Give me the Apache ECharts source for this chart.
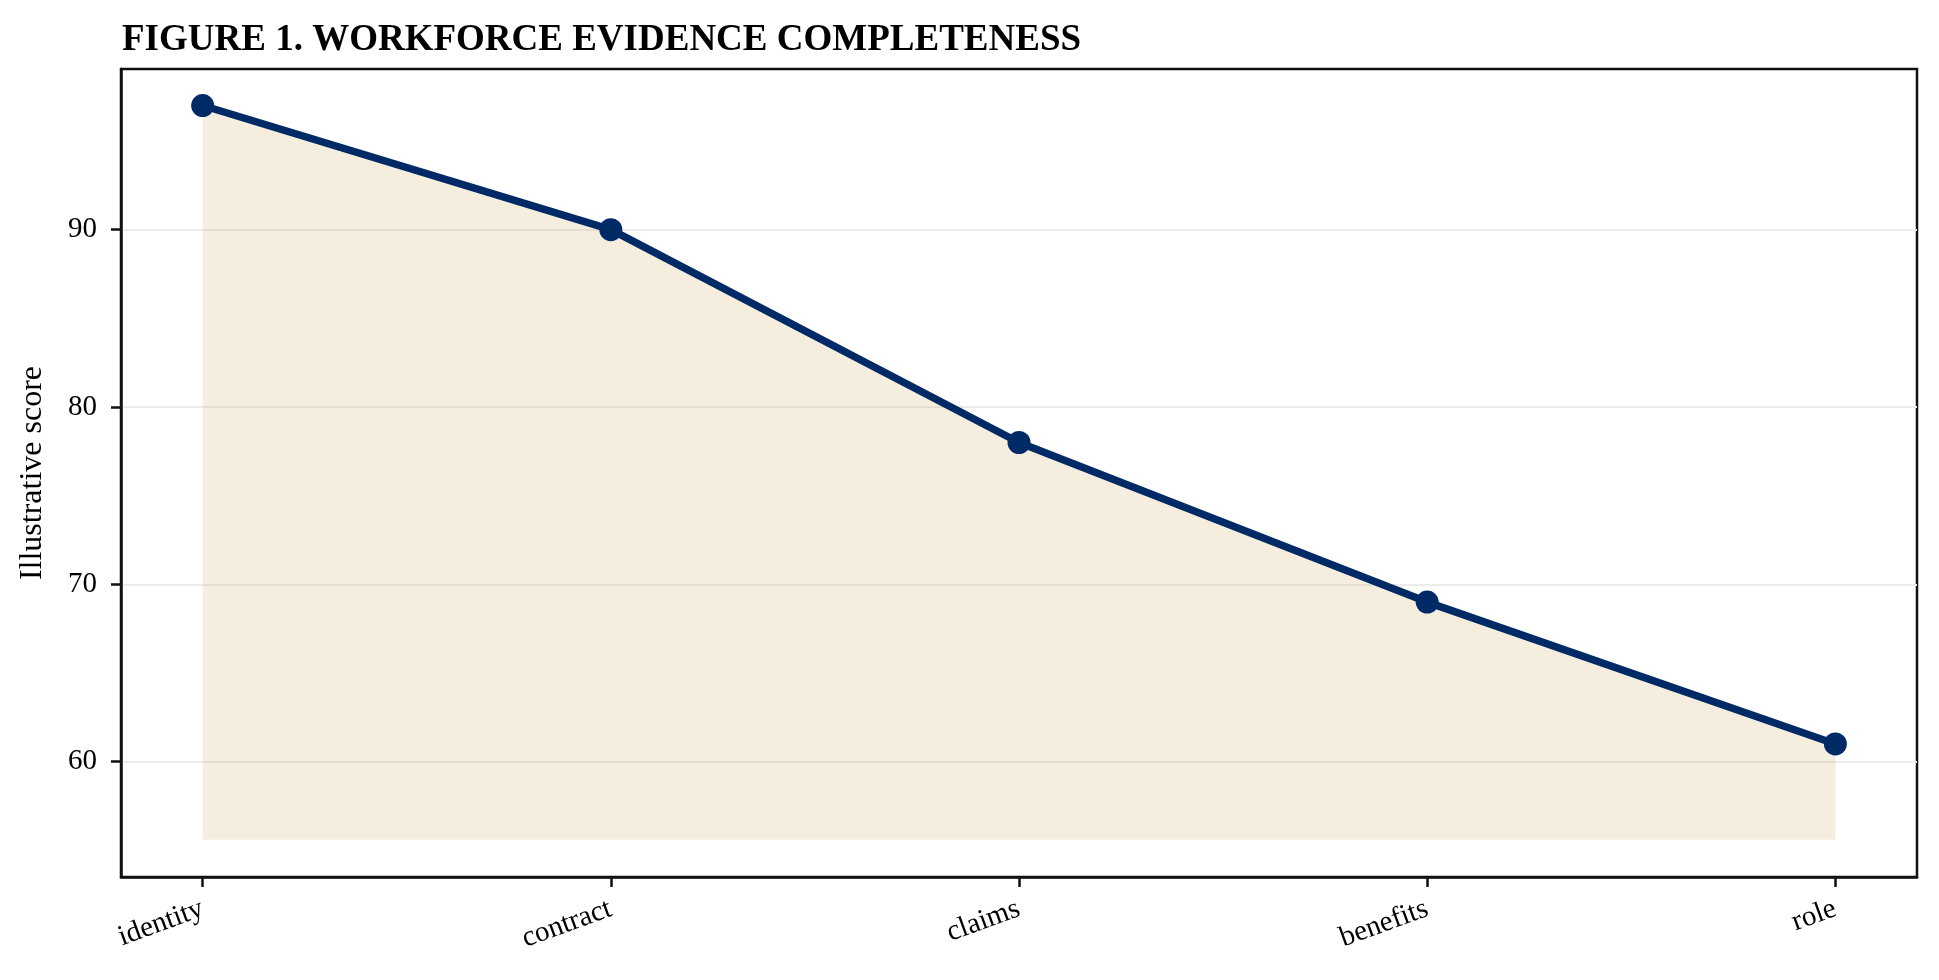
<!DOCTYPE html>
<html>
<head>
<meta charset="utf-8">
<title>Workforce evidence completeness</title>
<script src="https://cdn.jsdelivr.net/npm/echarts@6/dist/echarts.min.js"></script>
<style>
  html, body { margin: 0; padding: 0; background: #fff; }
  #chart { width: 1939px; height: 980px; }
</style>
</head>
<body>
<div id="chart"></div>
<script>
const categories = ["identity", "contract", "claims", "benefits", "role"];
const scores = [97, 90, 78, 69, 61];
const yTicks = [60, 70, 80, 90];
const fillBase = 55.6;

const font = "Liberation Serif, Times New Roman, serif";
const navy = "#002a66";
const ink = "#111";

const chart = echarts.init(document.getElementById("chart"));

const points = scores.map((v, i) => [i, v]);
const xTicks = categories.map((c, i) => i);

const option = {
  animation: false,
  backgroundColor: "#fff",
  title: {
    text: "FIGURE 1. WORKFORCE EVIDENCE COMPLETENESS",
    left: 117,
    top: 17,
    textStyle: { fontFamily: font, fontSize: 37, fontWeight: "bold", color: "#000" }
  },
  grid: {
    left: 121,
    right: 22,
    top: 69,
    bottom: 103,
    show: true,
    borderColor: ink,
    borderWidth: 2.5,
    backgroundColor: "transparent"
  },
  xAxis: {
    type: "value",
    min: -0.2,
    max: 4.2,
    axisLine: { show: true, onZero: false, lineStyle: { color: ink, width: 2.5 } },
    splitLine: { show: false },
    axisTick: {
      show: true,
      customValues: xTicks,
      length: 10,
      lineStyle: { color: ink, width: 2.5 }
    },
    axisLabel: {
      customValues: xTicks,
      formatter: (v) => categories[v],
      rotate: 20,
      margin: 31,
      fontFamily: font,
      fontSize: 29,
      color: "#000"
    }
  },
  yAxis: {
    type: "value",
    min: 53.5,
    max: 99.06,
    name: "Illustrative score",
    nameLocation: "middle",
    nameGap: 72,
    nameTextStyle: { fontFamily: font, fontSize: 32, color: "#000" },
    axisLine: { show: true, onZero: false, lineStyle: { color: ink, width: 2.5 } },
    axisTick: {
      show: true,
      customValues: yTicks,
      length: 10,
      lineStyle: { color: ink, width: 2.5 }
    },
    axisLabel: {
      customValues: yTicks,
      margin: 24,
      fontFamily: font,
      fontSize: 29,
      color: "#000"
    },
    splitLine: {
      show: true,
      lineStyle: { color: "#ebebeb", width: 2 }
    }
  },
  series: [
    {
      type: "line",
      data: points,
      symbol: "circle",
      symbolSize: 23,
      lineStyle: { color: navy, width: 7.5 },
      itemStyle: { color: navy },
      areaStyle: { color: "rgba(208,176,104,0.3)", origin: fillBase },
      z: 3
    }
  ]
};

chart.setOption(option);
</script>
</body>
</html>
